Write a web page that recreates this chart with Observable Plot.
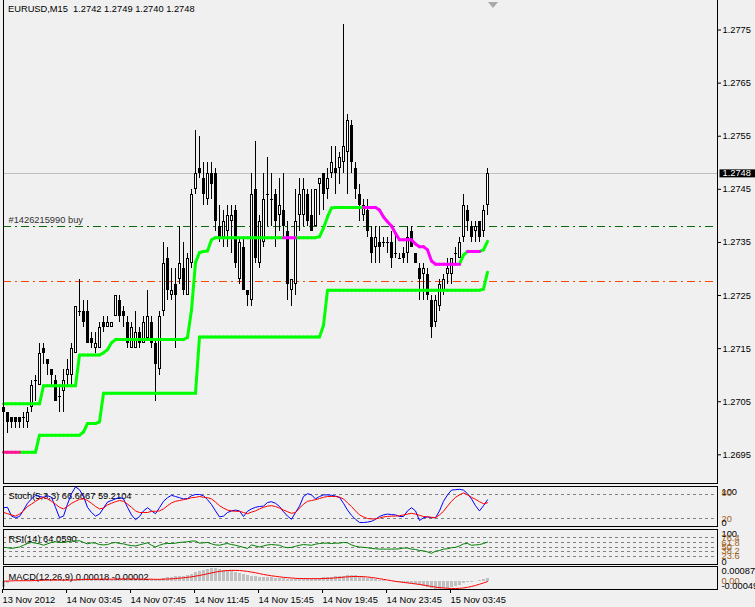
<!DOCTYPE html>
<html><head><meta charset="utf-8">
<script src="https://cdn.jsdelivr.net/npm/d3@7"></script>
<script src="https://cdn.jsdelivr.net/npm/@observablehq/plot@0.6"></script>
<style>
html,body{margin:0;padding:0;background:#f0f0f0;}
#chart{position:relative;width:755px;height:607px;background:#f0f0f0;overflow:hidden;font-family:"Liberation Sans",Arial,sans-serif;}
.panel{position:absolute;left:0;width:755px;}
.panel svg{display:block;}
#title{position:absolute;left:8px;top:4px;font-size:9.3px;line-height:11px;white-space:pre;color:#000;}
#shift{position:absolute;left:488px;top:2px;width:0;height:0;border-left:5px solid transparent;border-right:5px solid transparent;border-top:6px solid #a8a8a8;}
</style></head><body>
<div id="chart">
  <div class="panel" id="pMain" style="top:0px"></div>
  <div class="panel" id="pStoch" style="top:486px"></div>
  <div class="panel" id="pRsi" style="top:529px"></div>
  <div class="panel" id="pMacd" style="top:566px"></div>
  <div id="title"></div>
  <div id="shift"></div>
</div>
<script>
// ---------------- DATA ----------------
const symbolTitle = "EURUSD,M15  1.2742 1.2749 1.2740 1.2748";
const orderLabel = "#1426215990 buy";
const bidPrice = 1.2748;
const buyPrice = 1.2738;
const stopPrice = 1.27277;
const priceTicks = [1.2695, 1.2705, 1.2715, 1.2725, 1.2735, 1.2745, 1.2755, 1.2765, 1.2775];
const xLabels = ["13 Nov 2012", "14 Nov 03:45", "14 Nov 07:45", "14 Nov 11:45", "14 Nov 15:45", "14 Nov 19:45", "14 Nov 23:45", "15 Nov 03:45"];
const xLabelBars = [0, 16, 32, 48, 64, 80, 96, 112];

const opens = [
1.2704,1.2703,1.2702,1.2702,1.2702,1.2702,1.2701,1.2704,1.2709,1.2708,
1.2715,1.2713,1.2711,1.2709,1.2706,1.2707,1.2710,1.2710,1.2714,1.2722,
1.2722,1.2722,1.2717,1.2715,1.2715,1.2720,1.2719,1.2719,1.2721,1.2724,
1.2722,1.2720,1.2715,1.2715,1.2718,1.2716,1.2717,1.2720,1.2716,1.2711,
1.2722,1.2732,1.2725,1.2727,1.2728,1.2730,1.2725,1.2731,1.2745,1.2749,
1.2747,1.2743,1.2748,1.2748,1.2738,1.2736,1.2737,1.2739,1.2741,1.2728,
1.2734,1.2726,1.2724,1.2745,1.2731,1.2735,1.2744,1.2743,1.2744,1.2740,
1.2741,1.2737,1.2726,1.2727,1.2740,1.2740,1.2744,1.2740,1.2738,1.2746,
1.2748,1.2745,1.2748,1.2749,1.2749,1.2750,1.2752,1.2757,1.2749,1.2744,
1.2740,1.2741,1.2736,1.2734,1.2735,1.2735,1.2735,1.2735,1.2733,1.2732,
1.2733,1.2733,1.2737,1.2733,1.2730,1.2729,1.2729,1.2724,1.2720,1.2723,
1.2726,1.2729,1.2729,1.2733,1.2732,1.2736,1.2741,1.2738,1.2737,1.2739,
1.2737,1.2742];
const highs = [
1.2705,1.2703,1.2702,1.2702,1.2702,1.2703,1.2704,1.2709,1.2710,1.2716,
1.2716,1.2713,1.2711,1.2710,1.2708,1.2711,1.2713,1.2716,1.2723,1.2728,
1.2724,1.2724,1.2718,1.2718,1.2720,1.2721,1.2721,1.2720,1.2725,1.2725,
1.2723,1.2721,1.2720,1.2722,1.2719,1.2721,1.2726,1.2721,1.2717,1.2722,
1.2735,1.2734,1.2730,1.2730,1.2738,1.2735,1.2733,1.2745,1.2756,1.2755,
1.2750,1.2750,1.2750,1.2749,1.2742,1.2741,1.2742,1.2742,1.2742,1.2736,
1.2736,1.2726,1.2748,1.2754,1.2740,1.2748,1.2751,1.2748,1.2745,1.2747,
1.2748,1.2739,1.2728,1.2745,1.2747,1.2747,1.2745,1.2745,1.2745,1.2747,
1.2748,1.2749,1.2753,1.2753,1.2752,1.2776,1.2759,1.2758,1.2750,1.2746,
1.2743,1.2743,1.2738,1.2738,1.2738,1.2736,1.2736,1.2737,1.2737,1.2733,
1.2734,1.2738,1.2738,1.2733,1.2731,1.2731,1.2730,1.2725,1.2725,1.2728,
1.2729,1.2732,1.2732,1.2734,1.2736,1.2744,1.2742,1.2739,1.2739,1.2739,
1.2742,1.2749];
const lows = [
1.2702,1.2699,1.2700,1.2700,1.2700,1.2700,1.2700,1.2703,1.2705,1.2708,
1.2712,1.2710,1.2708,1.2705,1.2703,1.2703,1.2708,1.2708,1.2714,1.2721,
1.2719,1.2716,1.2715,1.2714,1.2715,1.2718,1.2719,1.2719,1.2721,1.2720,
1.2719,1.2715,1.2715,1.2715,1.2715,1.2716,1.2717,1.2715,1.2705,1.2710,
1.2721,1.2724,1.2724,1.2715,1.2727,1.2725,1.2725,1.2730,1.2744,1.2747,
1.2742,1.2742,1.2743,1.2737,1.2735,1.2734,1.2734,1.2733,1.2730,1.2727,
1.2726,1.2723,1.2723,1.2731,1.2730,1.2734,1.2738,1.2738,1.2734,1.2737,
1.2736,1.2724,1.2723,1.2725,1.2737,1.2738,1.2738,1.2737,1.2738,1.2740,
1.2741,1.2743,1.2747,1.2744,1.2746,1.2748,1.2744,1.2748,1.2743,1.2739,
1.2739,1.2736,1.2731,1.2731,1.2731,1.2734,1.2733,1.2730,1.2732,1.2732,
1.2731,1.2731,1.2734,1.2731,1.2724,1.2724,1.2724,1.2717,1.2719,1.2722,
1.2725,1.2727,1.2727,1.2731,1.2732,1.2735,1.2737,1.2735,1.2735,1.2735,
1.2736,1.2740];
const closes = [
1.2703,1.2701,1.2701,1.2701,1.2701,1.2702,1.2703,1.2708,1.2709,1.2714,
1.2714,1.2712,1.2710,1.2705,1.2706,1.2709,1.2711,1.2715,1.2723,1.2722,
1.2720,1.2716,1.2716,1.2716,1.2719,1.2719,1.2720,1.2720,1.2725,1.2721,
1.2721,1.2716,1.2719,1.2718,1.2716,1.2720,1.2721,1.2716,1.2712,1.2721,
1.2731,1.2726,1.2726,1.2725,1.2731,1.2726,1.2732,1.2744,1.2748,1.2748,
1.2744,1.2748,1.2746,1.2739,1.2736,1.2739,1.2740,1.2740,1.2731,1.2735,
1.2726,1.2725,1.2744,1.2732,1.2739,1.2743,1.2744,1.2743,1.2739,1.2742,
1.2738,1.2727,1.2728,1.2739,1.2744,1.2745,1.2739,1.2737,1.2745,1.2747,
1.2744,1.2747,1.2750,1.2748,1.2751,1.2753,1.2758,1.2750,1.2745,1.2742,
1.2742,1.2737,1.2733,1.2736,1.2734,1.2735,1.2735,1.2732,1.2733,1.2732,
1.2732,1.2736,1.2734,1.2731,1.2728,1.2730,1.2725,1.2719,1.2724,1.2727,
1.2728,1.2730,1.2732,1.2733,1.2735,1.2742,1.2739,1.2736,1.2738,1.2736,
1.2741,1.2748];

// trailing lines (upper & lower)
const upperLine = [
1.27046,1.27046,1.27046,1.27046,1.27046,1.27046,1.27046,1.27046,1.27046,1.27046,
1.27080,1.27080,1.27080,1.27080,1.27080,1.27080,1.27080,1.27080,1.27080,1.27138,
1.27138,1.27138,1.27138,1.27138,1.27138,1.27142,1.27148,1.27161,1.27167,1.27167,
1.27167,1.27167,1.27167,1.27167,1.27167,1.27167,1.27167,1.27167,1.27167,1.27167,
1.27167,1.27167,1.27167,1.27167,1.27167,1.27167,1.27171,1.27223,1.27312,1.27331,
1.27333,1.27334,1.27355,1.27359,1.27359,1.27359,1.27359,1.27359,1.27359,1.27359,
1.27359,1.27359,1.27359,1.27359,1.27359,1.27359,1.27359,1.27359,1.27359,1.27359,
1.27359,1.27359,1.27359,1.27359,1.27359,1.27359,1.27359,1.27359,1.27359,1.27361,
1.27377,1.27398,1.27415,1.27416,1.27416,1.27416,1.27416,1.27416,1.27416,1.27416,
1.27416,1.27416,1.27416,1.27416,1.27411,1.27398,1.27389,1.27381,1.27367,1.27355,
1.27355,1.27355,1.27355,1.27347,1.27342,1.27342,1.27336,1.27315,1.27309,1.27309,
1.27309,1.27309,1.27309,1.27309,1.27309,1.27326,1.27333,1.27333,1.27333,1.27333,
1.27336,1.27352];
const upperAltRanges = [[70, 73], [90, 114], [116, 119]];
const lowerLine = [
1.26955,1.26955,1.26955,1.26955,1.26955,1.26955,1.26955,1.26955,1.26955,1.26987,
1.26987,1.26987,1.26987,1.26987,1.26987,1.26987,1.26987,1.26987,1.26987,1.26987,
1.26993,1.27009,1.27009,1.27009,1.27012,1.27066,1.27066,1.27066,1.27066,1.27066,
1.27066,1.27066,1.27066,1.27066,1.27066,1.27066,1.27066,1.27066,1.27066,1.27066,
1.27066,1.27066,1.27066,1.27066,1.27066,1.27066,1.27066,1.27066,1.27066,1.27172,
1.27172,1.27172,1.27172,1.27172,1.27172,1.27172,1.27172,1.27172,1.27172,1.27172,
1.27172,1.27172,1.27172,1.27172,1.27172,1.27172,1.27172,1.27172,1.27172,1.27172,
1.27172,1.27172,1.27172,1.27172,1.27172,1.27172,1.27172,1.27172,1.27172,1.27172,
1.27194,1.27260,1.27260,1.27260,1.27260,1.27260,1.27260,1.27260,1.27260,1.27260,
1.27260,1.27260,1.27260,1.27260,1.27260,1.27260,1.27260,1.27260,1.27260,1.27260,
1.27260,1.27260,1.27260,1.27260,1.27260,1.27260,1.27260,1.27260,1.27260,1.27260,
1.27260,1.27260,1.27260,1.27260,1.27260,1.27260,1.27260,1.27260,1.27260,1.27260,
1.27262,1.27294];
const lowerAltRanges = [[0, 4]];

// Stochastic (5,3,3)
const stochLabel = "Stoch(5,3,3) 66.6667 59.2104";
const stochLevels = [80, 20];
const stochMain = [
47,48,26,22,25,41,58,69,78,75,
73,77,73,48,22,26,56,82,99,92,
75,48,35,26,31,46,61,65,69,73,
69,48,29,17,25,39,47,39,32,47,
63,72,78,75,72,69,70,77,80,80,
77,67,55,39,24,26,35,39,41,39,
25,38,44,48,50,51,60,62,58,50,
37,26,18,35,51,75,82,79,69,75,
79,79,78,76,73,58,41,28,18,10,
10,11,13,18,25,29,31,30,29,25,
25,39,47,39,15,22,24,22,22,39,
63,79,91,92,93,91,82,69,52,39,
52,66.6667];
const stochSignal = [
35,32,29,26,31,39,50,56,63,69,
73,69,63,56,48,44,50,58,63,68,
69,65,58,50,44,46,54,58,62,65,
63,56,48,39,35,35,35,38,38,39,
44,52,59,63,65,67,69,72,73,75,
73,72,69,61,52,46,41,39,38,38,
35,32,36,39,44,48,51,52,50,46,
41,37,33,35,46,56,63,65,67,70,
73,75,75,75,73,69,59,50,39,29,
24,20,19,19,21,24,25,26,26,27,
29,31,33,31,28,25,24,23,22,29,
38,51,63,73,79,84,79,73,68,62,
57,59.2104];

// RSI(14)
const rsiLabel = "RSI(14) 64.0590";
const rsiLevels = [76.4, 61.8, 50, 38.2, 23.6];
const rsiValues = [
49,48,46,48,50,55,60,63,61,59,
55,59,63,65,63,63,65,67,67,68,
63,59,62,61,57,56,57,61,63,60,
59,56,54,53,56,59,62,55,50,55,
59,60,60,61,63,64,65,67,67,61,
62,63,59,56,55,58,60,57,55,52,
49,46,56,53,50,53,56,57,56,55,
50,48,49,52,55,57,56,55,58,60,
61,61,60,61,61,63,62,56,52,50,
49,48,46,45,44,44,44,44,44,45,
47,47,44,43,40,39,36,32,38,40,
44,45,48,49,53,59,60,55,56,57,
60,64.059];

// MACD(12,26,9)
const macdLabel = "MACD(12,26,9) 0.00018 -0.00002";
const macdScaleMax = 0.00087;
const macdScaleMin = -0.00049;
const macdHist = [
-0.00040,-0.00015,-0.00002,0.00000,0.00001,0.00002,0.00004,0.00006,0.00007,0.00009,
0.00009,0.00009,0.00008,0.00006,0.00005,0.00005,0.00006,0.00008,0.00011,0.00013,
0.00014,0.00013,0.00012,0.00011,0.00011,0.00012,0.00012,0.00013,0.00015,0.00015,
0.00014,0.00012,0.00011,0.00011,0.00010,0.00011,0.00013,0.00012,0.00009,0.00012,
0.00019,0.00022,0.00024,0.00025,0.00028,0.00029,0.00033,0.00041,0.00050,0.00058,
0.00066,0.00072,0.00075,0.00074,0.00071,0.00066,0.00062,0.00058,0.00052,0.00047,
0.00039,0.00031,0.00029,0.00027,0.00024,0.00023,0.00022,0.00021,0.00019,0.00018,
0.00017,0.00013,0.00010,0.00011,0.00013,0.00015,0.00015,0.00015,0.00016,0.00018,
0.00020,0.00022,0.00024,0.00026,0.00028,0.00030,0.00034,0.00034,0.00031,0.00027,
0.00023,0.00019,0.00014,0.00010,0.00006,0.00003,0.00000,-0.00003,-0.00006,-0.00009,
-0.00012,-0.00012,-0.00013,-0.00020,-0.00026,-0.00033,-0.00038,-0.00045,-0.00049,-0.00048,
-0.00046,-0.00042,-0.00036,-0.00030,-0.00024,-0.00015,-0.00009,-0.00005,-0.00001,0.00003,
0.00010,0.00018];
const macdSignal = [
0.00000,0.00001,0.00002,0.00003,0.00003,0.00003,0.00003,0.00003,0.00004,0.00005,
0.00006,0.00007,0.00007,0.00007,0.00007,0.00007,0.00007,0.00007,0.00008,0.00009,
0.00010,0.00011,0.00011,0.00012,0.00012,0.00012,0.00012,0.00012,0.00012,0.00013,
0.00013,0.00013,0.00013,0.00013,0.00012,0.00012,0.00012,0.00012,0.00011,0.00011,
0.00012,0.00013,0.00014,0.00016,0.00018,0.00020,0.00023,0.00026,0.00030,0.00034,
0.00039,0.00044,0.00049,0.00054,0.00058,0.00061,0.00063,0.00064,0.00064,0.00063,
0.00061,0.00058,0.00054,0.00050,0.00045,0.00040,0.00036,0.00032,0.00029,0.00026,
0.00023,0.00021,0.00019,0.00017,0.00016,0.00016,0.00015,0.00015,0.00015,0.00015,
0.00016,0.00017,0.00018,0.00020,0.00022,0.00024,0.00026,0.00027,0.00028,0.00028,
0.00027,0.00025,0.00022,0.00019,0.00015,0.00011,0.00007,0.00003,-0.00001,-0.00004,
-0.00007,-0.00010,-0.00013,-0.00016,-0.00019,-0.00023,-0.00027,-0.00031,-0.00035,-0.00038,
-0.00040,-0.00042,-0.00043,-0.00043,-0.00042,-0.00040,-0.00036,-0.00031,-0.00025,-0.00018,
-0.00010,-0.00002];

// ---------------- RENDER ----------------
const FONT = '"Liberation Sans", Arial, sans-serif';
const FS = "9.3px";
const W = 755, ML = 3, MR = 38;
const xDomain = [0, 178.5];
const levelColor = "#a0601a";
const CRISP = "crispEdges";
const N = opens.length;
const bars = d3.range(N);
const candles = bars.map(i => ({i, o: opens[i], h: highs[i], l: lows[i], c: closes[i]}));
const bodies = candles.filter(d => d.o !== d.c);
const upBodies = bodies.filter(d => d.c > d.o);
const dojis = candles.filter(d => d.o === d.c);

function segments(values, altRanges) {
  const inAlt = i => altRanges.some(([a, b]) => i >= a && i < b);
  return d3.range(values.length - 1).map(i => ({x1: i, y1: values[i], x2: i + 1, y2: values[i + 1], alt: inAlt(i)}));
}
const upSegs = segments(upperLine, upperAltRanges);
const loSegs = segments(lowerLine, lowerAltRanges);
const linkOpts = (stroke) => ({x1: "x1", y1: "y1", x2: "x2", y2: "y2", stroke, strokeWidth: 3, strokeLinecap: "round"});

function scaleLabel(text, v, anchor, color, dy = 0) {
  return Plot.text([text], {y: () => v, text: d => d, frameAnchor: "right", dx: 4, dy, textAnchor: "start", lineAnchor: anchor, fill: color});
}
const baseStyle = {background: "transparent", fontFamily: FONT, fontSize: FS, color: "black", overflow: "visible"};

// main price panel (open at the top, as in the terminal window)
const main = Plot.plot({
  width: W, height: 484, marginLeft: ML, marginRight: MR, marginTop: 0, marginBottom: 1,
  x: {domain: xDomain, axis: null},
  y: {domain: [1.26896, 1.278056], axis: null},
  style: baseStyle,
  marks: [
    Plot.ruleY([bidPrice], {stroke: "#c0c0c0", shapeRendering: CRISP}),
    Plot.ruleY([buyPrice], {stroke: "#0a6a0a", strokeDasharray: "8,4,2,4", shapeRendering: CRISP}),
    Plot.ruleY([stopPrice], {stroke: "#ff4500", strokeDasharray: "8,4,2,4", shapeRendering: CRISP}),
    Plot.text([orderLabel], {y: () => buyPrice, text: d => d, frameAnchor: "left", dx: 5, dy: -6, textAnchor: "start", fill: "#303030"}),
    Plot.ruleX(candles, {x: "i", y1: "l", y2: "h", stroke: "black", shapeRendering: CRISP}),
    Plot.rect(bodies, {x1: d => d.i - 0.375, x2: d => d.i + 0.375, y1: "o", y2: "c", fill: "black", shapeRendering: CRISP}),
    Plot.rect(upBodies, {x1: d => d.i - 0.125, x2: d => d.i + 0.125, y1: "o", y2: "c", insetTop: 1, insetBottom: 1, fill: "white", shapeRendering: CRISP}),
    Plot.ruleY(dojis, {y: "o", x1: d => d.i - 0.375, x2: d => d.i + 0.375, stroke: "black", shapeRendering: CRISP}),
    Plot.link(loSegs.filter(d => !d.alt), linkOpts("#00ff00")),
    Plot.link(loSegs.filter(d => d.alt), linkOpts("#ff1493")),
    Plot.link(upSegs.filter(d => !d.alt), linkOpts("#00ff00")),
    Plot.link(upSegs.filter(d => d.alt), linkOpts("#ff00ff")),
    Plot.axisY({anchor: "right", ticks: priceTicks, tickFormat: d => d.toFixed(4), tickSize: 3, tickPadding: 2}),
    Plot.text([bidPrice], {y: d => d, text: d => d.toFixed(4), frameAnchor: "right", dx: 5, textAnchor: "start", fill: "white"}),
    Plot.frame({anchor: "left", stroke: "black", shapeRendering: CRISP}),
    Plot.frame({anchor: "right", stroke: "black", shapeRendering: CRISP}),
    Plot.frame({anchor: "bottom", stroke: "black", shapeRendering: CRISP})
  ]
});
document.getElementById("pMain").appendChild(main);
// black box behind the current price label
{
  const t = Array.from(main.querySelectorAll("text")).find(e => {
    const g = e.closest("g[fill]");
    return e.textContent === bidPrice.toFixed(4) && g && g.getAttribute("fill") === "white";
  });
  if (t) {
    const bb = t.getBBox();
    const r = document.createElementNS("http://www.w3.org/2000/svg", "rect");
    r.setAttribute("x", bb.x - 3);
    r.setAttribute("y", bb.y + 1);
    r.setAttribute("width", W);
    r.setAttribute("height", bb.height - 2);
    r.setAttribute("fill", "black");
    if (t.getAttribute("transform")) r.setAttribute("transform", t.getAttribute("transform"));
    t.parentNode.insertBefore(r, t);
  }
}

// Stochastic panel
const stoch = Plot.plot({
  width: W, height: 41, marginLeft: ML, marginRight: MR, marginTop: 0, marginBottom: 1,
  x: {domain: xDomain, axis: null},
  y: {domain: [0, 100], axis: null},
  style: baseStyle,
  marks: [
    Plot.ruleY(stochLevels, {stroke: "#808080", strokeDasharray: "3,3", shapeRendering: CRISP}),
    Plot.text([stochLabel], {text: d => d, frameAnchor: "top-left", dx: 5, dy: 10, lineAnchor: "middle", fill: "black"}),
    Plot.line(bars, {x: d => d, y: d => stochMain[d], stroke: "#0000ff", strokeWidth: 1}),
    Plot.line(bars, {x: d => d, y: d => stochSignal[d], stroke: "#ff0000", strokeWidth: 1}),
    scaleLabel("100", 100, "top", "black", 2),
    scaleLabel(String(stochLevels[0]), stochLevels[0], "middle", levelColor, -1),
    scaleLabel(String(stochLevels[1]), stochLevels[1], "middle", levelColor, 1),
    scaleLabel("0", 0, "bottom", "black", -1),
    Plot.frame({stroke: "black", shapeRendering: CRISP})
  ]
});
document.getElementById("pStoch").appendChild(stoch);

// RSI panel
const rsi = Plot.plot({
  width: W, height: 36, marginLeft: ML, marginRight: MR, marginTop: 0, marginBottom: 1,
  x: {domain: xDomain, axis: null},
  y: {domain: [0, 100], axis: null},
  style: baseStyle,
  marks: [
    Plot.ruleY(rsiLevels, {stroke: "#808080", strokeDasharray: "3,3", shapeRendering: CRISP}),
    Plot.text([rsiLabel], {text: d => d, frameAnchor: "top-left", dx: 5, dy: 9.5, lineAnchor: "middle", fill: "black"}),
    Plot.line(bars, {x: d => d, y: d => rsiValues[d], stroke: "#008000", strokeWidth: 1}),
    scaleLabel("100", 100, "top", "black", 1),
    ...rsiLevels.map(v => scaleLabel(String(v), v, "middle", levelColor)),
    scaleLabel("0", 0, "bottom", "black"),
    Plot.frame({stroke: "black", shapeRendering: CRISP})
  ]
});
document.getElementById("pRsi").appendChild(rsi);

// MACD panel with time axis
const macd = Plot.plot({
  width: W, height: 41, marginLeft: ML, marginRight: MR, marginTop: 0, marginBottom: 18,
  x: {domain: xDomain, axis: null},
  y: {domain: [macdScaleMin, macdScaleMax], axis: null},
  style: baseStyle,
  marks: [
    Plot.rect(bars, {x1: d => d - 0.375, x2: d => d + 0.375, y1: () => 0, y2: d => macdHist[d], fill: "#c0c0c0", shapeRendering: CRISP}),
    Plot.text([macdLabel], {text: d => d, frameAnchor: "top-left", dx: 5, dy: 11, lineAnchor: "middle", fill: "black"}),
    Plot.line(bars, {x: d => d, y: d => macdSignal[d], stroke: "#ff0000", strokeWidth: 1}),
    scaleLabel(macdScaleMax.toFixed(5), macdScaleMax, "top", "black", 1),
    scaleLabel("0.00", 0, "middle", levelColor),
    scaleLabel(macdScaleMin.toFixed(5), macdScaleMin, "bottom", "black", -1),
    Plot.axisX({anchor: "bottom", ticks: xLabelBars, tickFormat: d => xLabels[xLabelBars.indexOf(d)], tickSize: 4, tickPadding: 3, textAnchor: "start", dx: -1}),
    Plot.frame({stroke: "black", shapeRendering: CRISP})
  ]
});
document.getElementById("pMacd").appendChild(macd);

document.getElementById("title").textContent = symbolTitle;
</script>
</body></html>
